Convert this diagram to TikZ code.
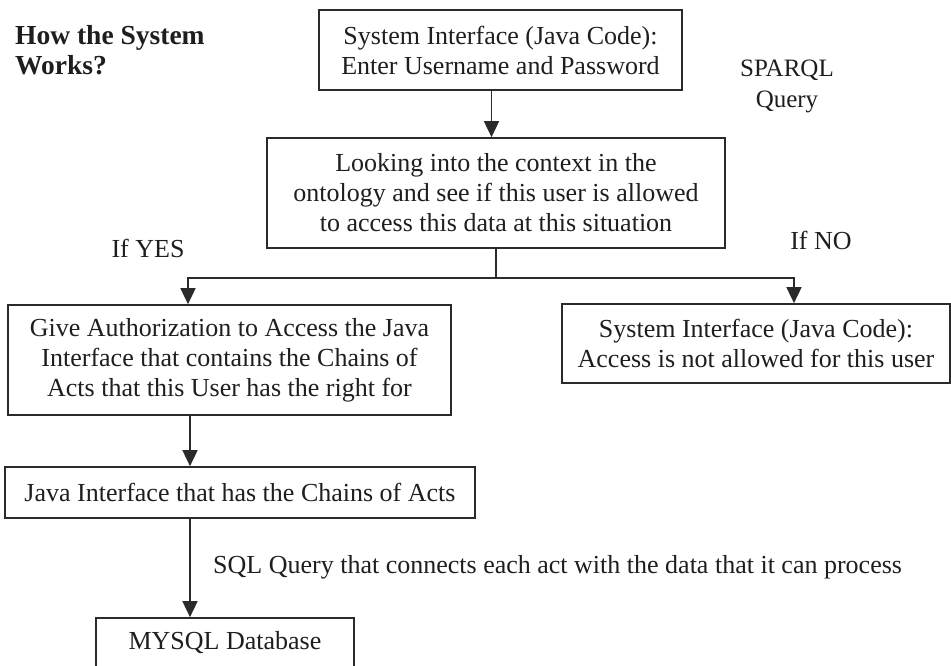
\documentclass[tikz,border=0pt]{standalone}
\usepackage{fontspec}
\setmainfont{Liberation Serif}
\usetikzlibrary{arrows.meta}
\definecolor{linec}{HTML}{2A2A2A}
\definecolor{txtc}{HTML}{1E1E1E}
\begin{document}
\begin{tikzpicture}[x=1pt,y=-1pt,
  box/.style={draw=linec, line width=1.7pt, align=center, inner sep=0pt, text=txtc, font=\fontsize{26}{30}\selectfont},
  lbl/.style={text=txtc, font=\fontsize{26}{30}\selectfont, inner sep=0pt, align=center},
  arr/.style={-{Triangle[width=15pt,length=16pt]}, line width=1.7pt, draw=linec},
  ln/.style={line width=1.7pt, draw=linec}]
\useasboundingbox (0,0) rectangle (951,666);
\node[lbl, anchor=west, align=left, font=\bfseries\fontsize{27.5}{30}\selectfont] (title) at (15,50) {How the System\\Works?};
\node[box, minimum width=363pt, minimum height=80pt] (top) at (500.5,50) {System Interface (Java Code):\\Enter Username and Password};
\node[lbl, font=\fontsize{25}{31}\selectfont] (sparql) at (787,86) {SPARQL\\Query};
\node[box, minimum width=458pt, minimum height=110pt] (mid) at (496,193) {Looking into the context in the\\ontology and see if this user is allowed\\to access this data at this situation};
\node[lbl] (yes) at (148,248) {If YES};
\node[lbl] (no) at (821,240) {If NO};
\node[box, minimum width=443pt, minimum height=110pt] (left) at (229.5,360) {Give Authorization to Access the Java\\Interface that contains the Chains of\\Acts that this User has the right for};
\node[box, minimum width=388pt, minimum height=79pt] (right) at (756,343.5) {System Interface (Java Code):\\Access is not allowed for this user};
\node[box, minimum width=470pt, minimum height=51pt] (java) at (240,492.5) {Java Interface that has the Chains of Acts};
\node[box, minimum width=258pt, minimum height=50pt] (db) at (225,643) {MYSQL Database};
\node[lbl, anchor=west] (sql) at (213,567) {SQL Query that connects each act with the data that it can process};
\draw[arr] ([xshift=-9pt]top.south) -- ([xshift=-9pt]top.south |- mid.north);
\draw[ln] (mid.south) -- ++(0,29) coordinate (split);
\draw[arr] (split) -| ([xshift=-41.5pt]left.north);
\draw[arr] (split) -| ([xshift=38pt]right.north);
\draw[arr] ([xshift=-39.5pt]left.south) -- ([xshift=-39.5pt]left.south |- java.north);
\draw[arr] ([xshift=-50pt]java.south) -- ([xshift=-50pt]java.south |- db.north);
\end{tikzpicture}
\end{document}
